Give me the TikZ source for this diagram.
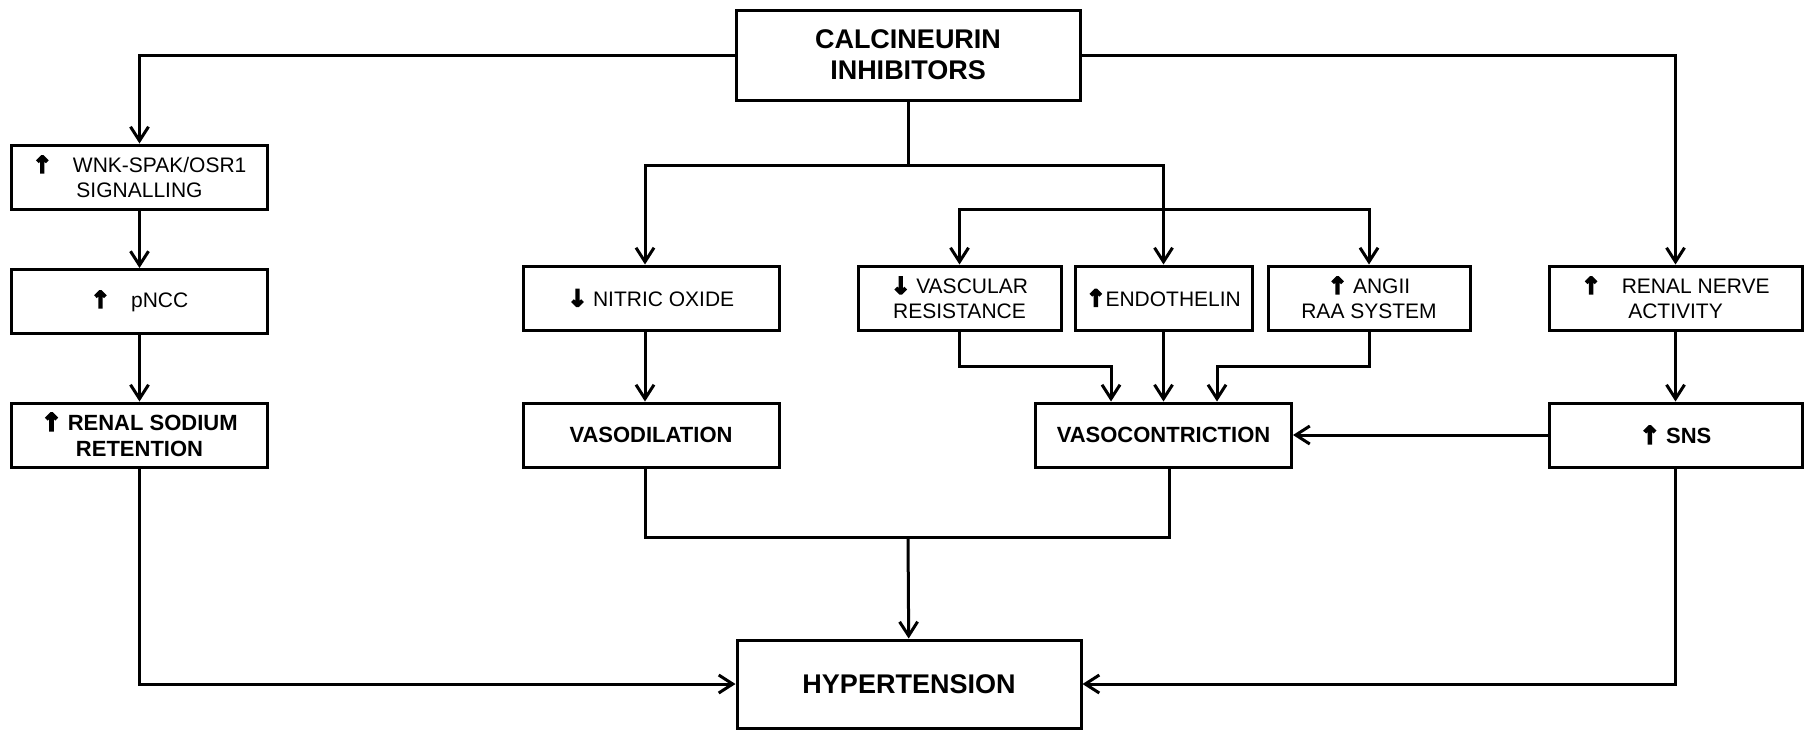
\documentclass[tikz,border=0pt]{standalone}
\usepackage{fontspec}
\setmainfont{Liberation Sans}
\newfontfamily\arrowfont[FakeBold=7,Scale=1.1]{DejaVu Sans Bold}
\usetikzlibrary{arrows.meta,positioning}
\newcommand{\uparr}{{\arrowfont ↑}}
\newcommand{\dnarr}{{\arrowfont ↓}}

\begin{document}
\begin{tikzpicture}[x=0.5pt,y=-0.5pt,>={Straight Barb[length=7pt,width=9pt]},line width=1.5pt,node distance=68.5pt,
    box/.style={draw,rectangle,align=center,inner sep=2pt,minimum height=32pt,font=\fontsize{10.5}{12.5}\selectfont},
    bigbox/.style={box,minimum width=172pt,minimum height=45pt,font=\fontsize{13.5}{15.5}\selectfont\bfseries},
    bold/.style={font=\fontsize{11}{13}\selectfont\bfseries}]
  \useasboundingbox (0,0) rectangle (1804,730);

  \node[bigbox]                           (1)  at (908,55)      {CALCINEURIN\\INHIBITORS};
  \node[box,minimum width=128pt]          (2)  at (139.5,177)   {\uparr\quad WNK-SPAK/OSR1\\SIGNALLING};
  \node[box,minimum width=128pt]          (3)  at (139.5,301.5) {\uparr\quad pNCC};
  \node[box,bold,minimum width=128pt]     (4)  at (139.5,435)   {\uparr\ RENAL SODIUM\\RETENTION};
  \node[box,minimum width=128pt]          (5)  at (651,298)     {\dnarr\ NITRIC OXIDE};
  \node[box,bold,minimum width=128pt]     (6)  [below of=5]     {VASODILATION};
  \node[box,minimum width=101.5pt]        (7)  at (959.5,298)   {\dnarr\ VASCULAR\\RESISTANCE};
  \node[box,minimum width=88.5pt]         (8)  at (1163.5,298)  {\uparr ENDOTHELIN};
  \node[box,minimum width=101pt]          (9)  at (1369,298)    {\uparr\ ANGII\\RAA SYSTEM};
  \node[box,minimum width=126.5pt]        (10) at (1675.5,298)  {\uparr\quad RENAL NERVE\\ACTIVITY};
  \node[box,bold,minimum width=128pt]     (11) [below of=8]     {VASOCONTRICTION};
  \node[box,bold,minimum width=126.5pt]   (12) [below of=10]    {\uparr\ SNS};
  \node[bigbox,minimum height=44pt]       (13) at (909,684)     {HYPERTENSION};

  \coordinate (b1) at (908,165);
  \coordinate (b2) at (1163.5,209);
  \coordinate (c1) at (1111,366);
  \coordinate (c2) at (1217,366);
  \coordinate (b3) at (908,537);

  \draw[->] (1) -| (2);
  \draw[->] (1) -| (10);
  \draw[->] (1) -- (b1) -| ([xshift=-3pt]5.north);
  \draw[->] (b1) -| (8);
  \draw[->] (b2) -| (7);
  \draw[->] (b2) -| (9);
  \draw[->] (7) |- (c1) -- (c1 |- 11.north);
  \draw[->] (9) |- (c2) -- (c2 |- 11.north);
  \draw[->] ([xshift=-3pt]5.south) -- ([xshift=-3pt]6.north);
  \draw[->] (2) edge (3)
            (3) edge (4)
            (8) edge (11)
            (10) edge (12)
            (12) edge (11);
  \draw ([xshift=-3pt]6.south) |- (b3) -| ([xshift=3pt]11.south);
  \draw[->] (b3) -- (13);
  \draw[->] (4) |- (13);
  \draw[->] (12) |- (13);
\end{tikzpicture}
\end{document}
